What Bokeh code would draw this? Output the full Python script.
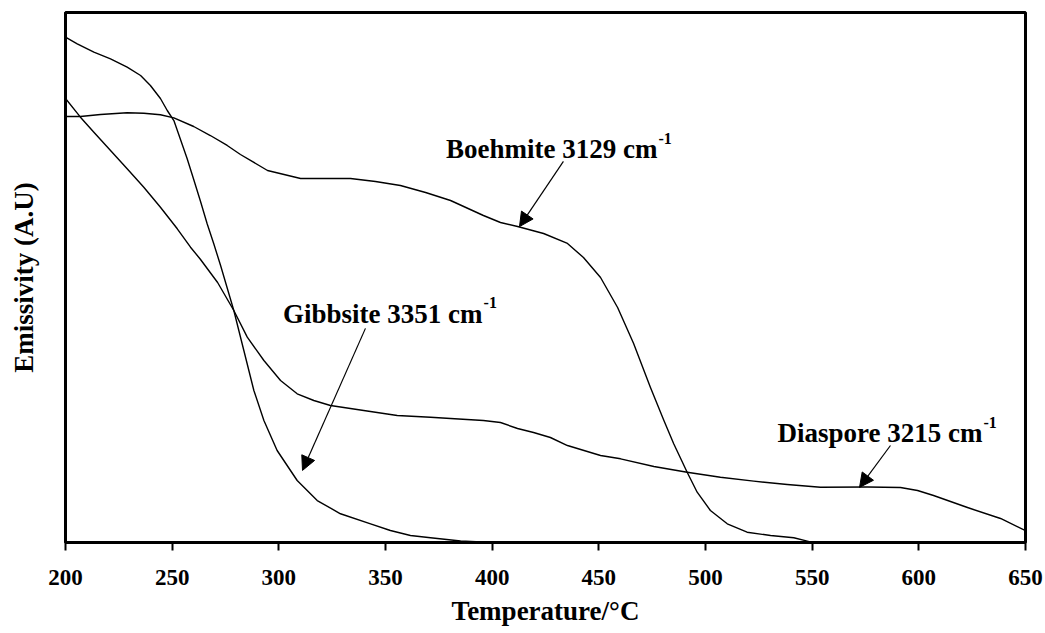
from bokeh.plotting import figure
from bokeh.models import Arrow, NormalHead, Label, FixedTicker, ColumnDataSource
from bokeh.embed import file_html
from bokeh.resources import INLINE

# ---- data (temperature in °C, emissivity in arbitrary units 0-100) ----
gibbsite_t = [200.0, 205.5, 213.3, 221.1, 228.9, 235.2, 239.8, 244.5, 247.7, 250.8, 253.9, 257.0,
              260.1, 263.3, 266.4, 269.5, 272.7, 278.9, 283.6, 288.3, 293.0, 299.2, 308.6, 318.0,
              328.9, 343.0, 352.3, 361.7, 371.1, 385.2, 399.7]
gibbsite_v = [95.34, 94.09, 92.51, 91.26, 89.68, 88.11, 86.23, 83.77, 81.51, 79.62, 76.04, 72.45,
              68.49, 64.34, 60.13, 56.36, 52.26, 43.77, 36.23, 28.68, 23.02, 17.36, 11.70, 7.92,
              5.42, 3.53, 2.26, 1.32, 0.89, 0.28, 0.0]

boehmite_t = [200.0, 207.0, 216.4, 228.9, 236.7, 244.5, 250.8, 260.1, 267.9, 275.8, 282.0, 294.7,
              310.2, 333.6, 345.3, 357.0, 368.8, 380.5, 395.9, 403.9, 411.9, 424.1, 435.3, 442.8,
              450.8, 458.8, 466.3, 474.2, 480.5, 485.1, 491.4, 496.1, 502.3, 510.2, 519.5, 530.5,
              541.4, 547.7, 550.0]
boehmite_v = [80.38, 80.38, 80.75, 81.08, 81.00, 80.70, 80.13, 78.49, 76.79, 74.91, 73.21, 70.19,
              68.68, 68.68, 68.11, 67.36, 66.04, 64.53, 61.70, 60.38, 59.62, 58.30, 56.42, 53.77,
              50.00, 44.34, 37.55, 29.25, 23.02, 18.62, 13.26, 9.49, 6.04, 3.53, 1.94, 1.32,
              0.89, 0.25, 0.0]

diaspore_t = [200.0, 207.0, 213.3, 221.1, 228.9, 236.7, 244.5, 252.4, 258.6, 263.3, 271.3, 278.9,
              285.2, 293.0, 300.8, 308.6, 316.4, 324.2, 339.8, 355.5, 371.1, 380.5, 395.9, 403.9,
              411.9, 419.4, 427.3, 435.3, 450.8, 460.2, 475.8, 491.4, 507.0, 522.6, 538.3, 553.9,
              575.9, 591.4, 599.4, 606.9, 622.8, 638.3, 650.0]
diaspore_v = [83.77, 80.25, 77.42, 73.96, 70.51, 67.04, 63.26, 59.19, 55.72, 53.40, 49.06, 43.77,
              38.74, 34.34, 30.57, 28.06, 26.79, 25.85, 24.91, 23.96, 23.64, 23.40, 23.02, 22.64,
              21.51, 20.75, 19.81, 18.30, 16.42, 15.79, 14.34, 13.26, 12.32, 11.57, 10.94, 10.43,
              10.47, 10.38, 9.81, 8.87, 6.60, 4.53, 2.26]

x_ticks = [200, 250, 300, 350, 400, 450, 500, 550, 600, 650]

labels = ["Boehmite 3129 cm", "Gibbsite 3351 cm", "Diaspore 3215 cm"]
label_sup = "-1"

FONT = "Liberation Serif"

p = figure(width=1045, height=633, x_range=(200, 650), y_range=(0, 100),
           output_backend="svg", toolbar_location=None,
           min_border_left=65, min_border_right=20, min_border_top=12, min_border_bottom=91)
p.background_fill_color = "white"
p.border_fill_color = "white"
p.outline_line_color = "black"
p.outline_line_width = 3
p.xgrid.visible = False
p.ygrid.visible = False

# x axis
xa = p.xaxis[0]
xa.ticker = FixedTicker(ticks=x_ticks)
xa.minor_tick_line_color = None
xa.major_tick_in = 0
xa.major_tick_out = 8
xa.major_tick_line_width = 2
xa.axis_line_width = 3
xa.major_label_text_font = FONT
xa.major_label_text_font_style = "bold"
xa.major_label_text_font_size = "23px"
xa.major_label_text_color = "black"
xa.major_label_standoff = 19
xa.axis_label = "Temperature/°C"
xa.axis_label_text_font = FONT
xa.axis_label_text_font_style = "bold"
xa.axis_label_text_font_size = "27px"
xa.axis_label_text_color = "black"
xa.axis_label_standoff = 8

# y axis (no ticks)
ya = p.yaxis[0]
ya.ticker = FixedTicker(ticks=[])
ya.minor_tick_line_color = None
ya.major_tick_in = 0
ya.major_tick_out = 0
ya.axis_line_width = 3
ya.axis_label = "Emissivity (A.U)"
ya.axis_label_text_font = FONT
ya.axis_label_text_font_style = "bold"
ya.axis_label_text_font_size = "27px"
ya.axis_label_text_color = "black"
ya.axis_label_standoff = 27

for t, v in [(gibbsite_t, gibbsite_v), (boehmite_t, boehmite_v), (diaspore_t, diaspore_v)]:
    src = ColumnDataSource(dict(x=t, y=v))
    p.line("x", "y", source=src, line_color="black", line_width=1.4, line_join="round")

# annotations: (text end x, baseline y) and arrow start/end
ann = [
    (labels[0], 477.5, 74.2, (433.4, 71.9), (412.8, 59.6)),
    (labels[1], 395.5, 43.2, (340.6, 40.4), (311.1, 13.6)),
    (labels[2], 629.8, 20.6, (586.7, 18.3), (572.2, 10.4)),
]
for txt, xe, yb, a0, a1 in ann:
    p.add_layout(Label(x=xe, y=yb, text=txt, text_align="right", text_baseline="alphabetic",
                       text_font=FONT, text_font_style="bold", text_font_size="27px",
                       text_color="black"))
    p.add_layout(Label(x=xe, y=yb, text=label_sup, text_align="left", text_baseline="alphabetic",
                       x_offset=1, y_offset=11,
                       text_font=FONT, text_font_style="bold", text_font_size="16px",
                       text_color="black"))
    p.add_layout(Arrow(end=NormalHead(size=14, fill_color="black", line_color="black", line_width=1),
                       x_start=a0[0], y_start=a0[1], x_end=a1[0], y_end=a1[1],
                       line_color="black", line_width=1.2))

open("out.html", "w").write(file_html(p, INLINE))
